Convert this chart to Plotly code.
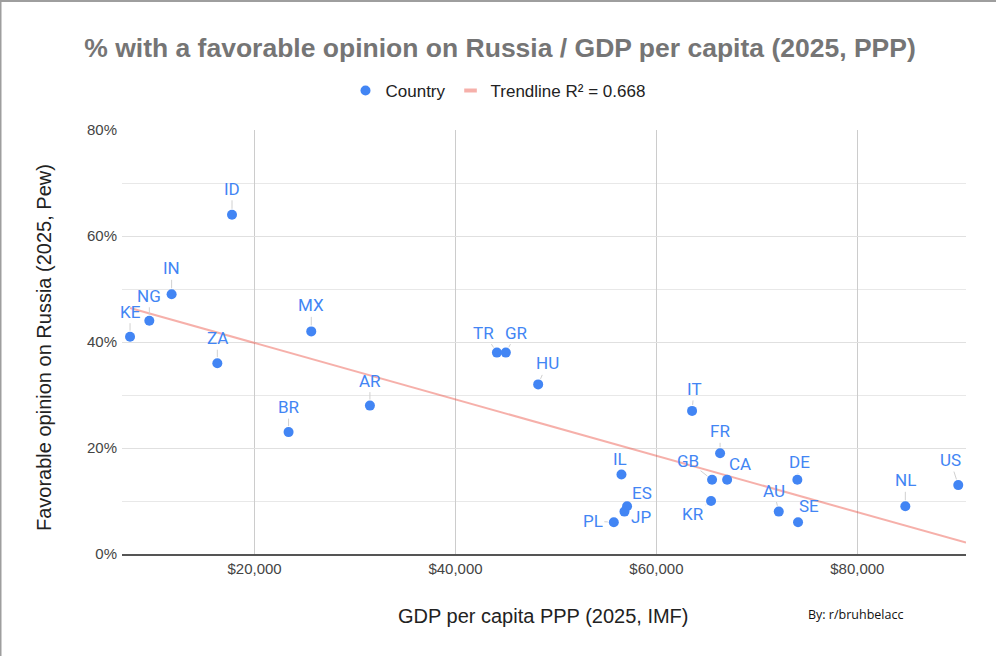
import numpy as np
import plotly.graph_objects as go

# ---- data ----
countries = ["KE", "NG", "IN", "ID", "ZA", "MX", "BR", "AR", "TR", "GR", "HU", "IT", "IL",
             "ES", "JP", "PL", "FR", "GB", "CA", "KR", "DE", "AU", "SE", "NL", "US"]
gdp_ppp = [7600, 9520, 11740, 17750, 16290, 25640, 23380, 31480, 44120, 45010, 48230, 63550, 56520,
           57080, 56820, 55760, 66340, 65540, 67040, 65440, 74030, 72180, 74100, 84780, 90050]
favorable = [41, 44, 49, 64, 36, 42, 23, 28, 38, 38, 32, 27, 15,
             9, 8, 6, 19, 14, 14, 10, 14, 8, 6, 9, 13]
x_ticks = [20000, 40000, 60000, 80000]
x_tick_labels = ["$20,000", "$40,000", "$60,000", "$80,000"]
y_ticks = [0, 20, 40, 60, 80]
y_tick_labels = ["0%", "20%", "40%", "60%", "80%"]
r2_label = "Trendline R² = 0.668"

# ---- styling / layout constants ----
W, H = 996, 656
ML, MR, MT, MB = 122, 30, 130, 102
X_RANGE = [6800, 90820]
Y_RANGE = [0, 80]
BLUE = "#4285F4"
PINK = "rgba(234,67,53,0.42)"
label_offsets = {
    "ID": (0, -26), "IN": (0, -26), "NG": (0, -25), "KE": (0, -25), "ZA": (0, -25),
    "MX": (0, -26), "BR": (0, -25), "AR": (0, -25), "TR": (-13, -20), "GR": (11, -20),
    "HU": (9, -21), "IT": (2, -22), "IL": (-1, -16), "ES": (15, -13), "JP": (17, 5),
    "PL": (-21, -1), "FR": (0, -22), "GB": (-24, -19), "CA": (13, -16), "KR": (-18, 13),
    "DE": (2, -18), "AU": (-5, -21), "SE": (11, -16), "NL": (0, -26), "US": (-8, -25),
}

gx = np.array(gdp_ppp, dtype=float)
fy = np.array(favorable, dtype=float)
slope, intercept = np.polyfit(gx, fy, 1)
trend_x = np.array([gx.min(), X_RANGE[1]])
trend_y = slope * trend_x + intercept

fig = go.Figure()
fig.add_trace(go.Scatter(x=trend_x, y=trend_y, mode="lines",
                         line=dict(color=PINK, width=2), showlegend=False, hoverinfo="skip"))
fig.add_trace(go.Scatter(x=gdp_ppp, y=favorable, mode="markers", name="Country",
                         marker=dict(color=BLUE, size=10), text=countries))
# legend entry for the trendline (short bar symbol)
fig.add_trace(go.Scatter(x=[None], y=[None], mode="markers", name=r2_label,
                         marker=dict(symbol="line-ew", size=9,
                                     line=dict(color=PINK, width=4))))

annotations = []
for c, xv, yv in zip(countries, gdp_ppp, favorable):
    ax, ay = label_offsets[c]
    annotations.append(dict(x=xv, y=yv, xref="x", yref="y", text=c, showarrow=True,
                            ax=ax, ay=ay, arrowhead=0, arrowwidth=1, arrowcolor="#d0d0d0",
                            standoff=6, startstandoff=0,
                            font=dict(family="Roboto, Arial", size=17, color=BLUE)))

ph = H - MT - MB
pw = W - ML - MR
def px_x(p):
    return (p - ML) / pw
def px_y(p):
    return (H - MB - p) / ph

annotations.append(dict(xref="paper", yref="paper", x=px_x(543), y=px_y(616),
                        text="GDP per capita PPP (2025, IMF)", showarrow=False,
                        xanchor="center", yanchor="middle",
                        font=dict(family="Arial", size=20, color="#222")))
annotations.append(dict(xref="paper", yref="paper", x=px_x(44), y=px_y(348),
                        text="Favorable opinion on Russia (2025, Pew)", showarrow=False,
                        textangle=-90, xanchor="center", yanchor="middle",
                        font=dict(family="Arial", size=20, color="#222")))
annotations.append(dict(xref="paper", yref="paper", x=px_x(806), y=px_y(614),
                        text="By: r/bruhbelacc", showarrow=False,
                        xanchor="left", yanchor="middle",
                        font=dict(family="Open Sans, Arial", size=12.5, color="#111")))

shapes = [
    dict(type="line", xref="paper", yref="paper", x0=px_x(0), x1=px_x(W), y0=px_y(1), y1=px_y(1),
         line=dict(color="#9e9e9e", width=2)),
    dict(type="line", xref="paper", yref="paper", x0=px_x(0.5), x1=px_x(0.5), y0=px_y(0), y1=px_y(H),
         line=dict(color="#9e9e9e", width=2)),
]

fig.update_layout(
    width=W, height=H,
    margin=dict(l=ML, r=MR, t=MT, b=MB),
    paper_bgcolor="white", plot_bgcolor="white",
    title=dict(text="<b>% with a favorable opinion on Russia / GDP per capita (2025, PPP)</b>",
               x=500 / W, xref="container", xanchor="center", y=1 - 48 / H, yanchor="middle",
               font=dict(family="Arial", size=26.5, color="#757575")),
    showlegend=True,
    legend=dict(orientation="h", x=px_x(498), xanchor="center", y=px_y(91), yanchor="middle",
                font=dict(family="Arial", size=17, color="#222"), itemsizing="trace"),
    xaxis=dict(range=X_RANGE, tickvals=x_ticks, ticktext=x_tick_labels, showgrid=True,
               gridcolor="#cccccc", gridwidth=1, zeroline=False, showline=True,
               linecolor="#555555", linewidth=1.5,
               tickfont=dict(family="Arial", size=15, color="#444")),
    yaxis=dict(range=Y_RANGE, tickvals=y_ticks, ticktext=y_tick_labels, showgrid=True,
               gridcolor="#e0e0e0", gridwidth=1, zeroline=False, showline=False,
               minor=dict(dtick=10, showgrid=True, gridcolor="#e8e8e8", gridwidth=1),
               tickfont=dict(family="Arial", size=15, color="#444"), ticklabelstandoff=4),
    annotations=annotations,
    shapes=shapes,
    hovermode="closest",
)

fig.write_html("out.html")
